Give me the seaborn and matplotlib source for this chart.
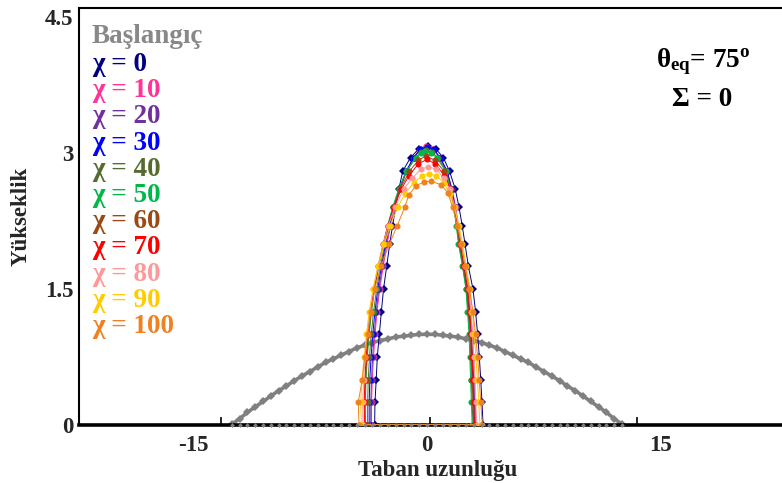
import matplotlib
matplotlib.use("Agg")
import matplotlib.pyplot as plt
import seaborn as sns

# Initial cap profile (Başlangıç)
init_x = [-12.5, -12.0, -11.5, -11.0, -10.5, -10.0, -9.5, -9.0, -8.5, -8.0, -7.5, -7.0, -6.5,
          -6.0, -5.5, -5.0, -4.5, -4.0, -3.5, -3.0, -2.5, -2.0, -1.5, -1.0, -0.5, 0.0,
          0.5, 1.0, 1.5, 2.0, 2.5, 3.0, 3.5, 4.0, 4.5, 5.0, 5.5, 6.0, 6.5, 7.0, 7.5,
          8.0, 8.5, 9.0, 9.5, 10.0, 10.5, 11.0, 11.5, 12.0, 12.5]
init_y = [0.01, 0.07, 0.14, 0.20, 0.26, 0.32, 0.38, 0.43, 0.49, 0.54, 0.59, 0.64, 0.69,
          0.73, 0.77, 0.81, 0.85, 0.88, 0.91, 0.93, 0.95, 0.97, 0.98, 0.99, 1.00, 1.00,
          1.00, 0.99, 0.98, 0.97, 0.95, 0.93, 0.91, 0.88, 0.85, 0.81, 0.77, 0.73, 0.69,
          0.64, 0.59, 0.54, 0.49, 0.43, 0.38, 0.32, 0.26, 0.20, 0.14, 0.07, 0.01]
init_base_y = [0.0] * len(init_x)

# Drop contours: left contact -> apex -> right contact, closed along the base
chi0_x = [-3.35, -3.33, -3.25, -3.18, -3.05, -2.92, -2.78, -2.58, -2.38, -2.2, -2.0, -1.8, -1.55,
          -1.05, -0.5, 0.05, 0.6, 1.05, 1.45, 1.82, 2.06, 2.26, 2.44, 2.66, 2.95, 3.12, 3.25,
          3.36, 3.45, 3.53, 3.6, -3.35]
chi0_y = [0, 0.25, 0.5, 0.75, 1.0, 1.25, 1.5, 1.75, 2.0, 2.2, 2.4, 2.6, 2.8, 2.95, 3.05, 3.08,
          3.04, 2.95, 2.8, 2.6, 2.4, 2.2, 2.0, 1.75, 1.5, 1.25, 1.0, 0.75, 0.5, 0.25, 0, 0]

chi10_x = [-3.55, -3.55, -3.5, -3.42, -3.32, -3.2, -3.02, -2.8, -2.55, -2.32, -2.05, -1.72, -1.3,
           -0.85, -0.45, -0.05, 0.4, 0.8, 1.3, 1.62, 1.85, 2.02, 2.18, 2.42, 2.68, 2.8, 2.92,
           3.0, 3.05, 3.1, 3.15, -3.55]
chi10_y = [0, 0.25, 0.5, 0.75, 1.0, 1.25, 1.5, 1.75, 2.0, 2.2, 2.4, 2.6, 2.8, 2.95, 3.05, 3.08,
           3.05, 2.95, 2.8, 2.6, 2.4, 2.2, 2.0, 1.75, 1.5, 1.25, 1.0, 0.75, 0.5, 0.25, 0, 0]

chi20_x = [-3.6, -3.6, -3.55, -3.48, -3.38, -3.25, -3.08, -2.85, -2.6, -2.38, -2.1, -1.75, -1.32,
           -0.85, -0.42, 0.0, 0.42, 0.82, 1.28, 1.6, 1.82, 1.98, 2.14, 2.38, 2.62, 2.75, 2.86,
           2.94, 3.0, 3.05, 3.1, -3.6]
chi20_y = [0, 0.25, 0.5, 0.75, 1.0, 1.25, 1.5, 1.75, 2.0, 2.2, 2.4, 2.6, 2.8, 2.95, 3.04, 3.07,
           3.04, 2.95, 2.8, 2.6, 2.4, 2.2, 2.0, 1.75, 1.5, 1.25, 1.0, 0.75, 0.5, 0.25, 0, 0]

chi30_x = [-3.7, -3.7, -3.66, -3.58, -3.47, -3.33, -3.15, -2.92, -2.65, -2.42, -2.13, -1.78, -1.33,
           -0.85, -0.42, 0.0, 0.45, 0.85, 1.3, 1.58, 1.78, 1.94, 2.1, 2.34, 2.58, 2.7, 2.8,
           2.88, 2.94, 2.99, 3.04, -3.7]
chi30_y = [0, 0.25, 0.5, 0.75, 1.0, 1.25, 1.5, 1.75, 2.0, 2.2, 2.4, 2.6, 2.8, 2.95, 3.04, 3.07,
           3.04, 2.95, 2.8, 2.6, 2.4, 2.2, 2.0, 1.75, 1.5, 1.25, 1.0, 0.75, 0.5, 0.25, 0, 0]

chi40_x = [-3.8, -3.8, -3.76, -3.68, -3.57, -3.42, -3.22, -2.98, -2.7, -2.45, -2.15, -1.78, -1.3,
           -0.72, -0.38, -0.05, 0.32, 0.7, 1.25, 1.55, 1.75, 1.9, 2.05, 2.3, 2.52, 2.64, 2.74,
           2.8, 2.85, 2.9, 2.95, -3.8]
chi40_y = [0, 0.25, 0.5, 0.75, 1.0, 1.25, 1.5, 1.75, 2.0, 2.2, 2.4, 2.6, 2.8, 2.95, 3.01, 3.03,
           3.01, 2.95, 2.8, 2.6, 2.4, 2.2, 2.0, 1.75, 1.5, 1.25, 1.0, 0.75, 0.5, 0.25, 0, 0]

chi50_x = [-3.95, -3.95, -3.9, -3.82, -3.7, -3.55, -3.35, -3.08, -2.78, -2.52, -2.2, -1.82, -1.32,
           -0.7, -0.4, -0.1, 0.25, 0.62, 1.2, 1.5, 1.72, 1.88, 2.02, 2.28, 2.5, 2.6, 2.7,
           2.75, 2.8, 2.85, 2.9, -3.95]
chi50_y = [0, 0.25, 0.5, 0.75, 1.0, 1.25, 1.5, 1.75, 2.0, 2.2, 2.4, 2.6, 2.8, 2.95, 3.0, 3.02,
           3.0, 2.95, 2.8, 2.6, 2.4, 2.2, 2.0, 1.75, 1.5, 1.25, 1.0, 0.75, 0.5, 0.25, 0, 0]

chi60_x = [-3.95, -3.98, -3.93, -3.85, -3.74, -3.58, -3.37, -3.1, -2.78, -2.5, -2.15, -1.72, -1.12,
           -0.55, -0.05, 0.5, 1.1, 1.5, 1.76, 1.94, 2.1, 2.34, 2.56, 2.68, 2.78, 2.84, 2.9,
           2.95, 3.0, -3.95]
chi60_y = [0, 0.25, 0.5, 0.75, 1.0, 1.25, 1.5, 1.75, 2.0, 2.2, 2.4, 2.6, 2.8, 2.92, 2.97,
           2.92, 2.8, 2.6, 2.4, 2.2, 2.0, 1.75, 1.5, 1.25, 1.0, 0.75, 0.5, 0.25, 0, 0]

chi70_x = [-4.0, -4.02, -3.97, -3.9, -3.78, -3.62, -3.4, -3.12, -2.8, -2.5, -2.12, -1.65, -1.15,
           -0.55, 0.0, 0.55, 1.12, 1.52, 1.8, 1.98, 2.15, 2.4, 2.62, 2.75, 2.84, 2.9, 2.96,
           3.0, 3.05, -4.0]
chi70_y = [0, 0.25, 0.5, 0.75, 1.0, 1.25, 1.5, 1.75, 2.0, 2.2, 2.4, 2.6, 2.75, 2.88, 2.93,
           2.88, 2.75, 2.6, 2.4, 2.2, 2.0, 1.75, 1.5, 1.25, 1.0, 0.75, 0.5, 0.25, 0, 0]

chi80_x = [-4.1, -4.12, -4.05, -3.96, -3.84, -3.67, -3.45, -3.15, -2.8, -2.48, -2.05, -1.5, -0.95,
           -0.4, 0.1, 0.6, 1.1, 1.45, 1.82, 2.02, 2.2, 2.45, 2.68, 2.82, 2.92, 3.0, 3.08,
           3.14, 3.2, -4.1]
chi80_y = [0, 0.25, 0.5, 0.75, 1.0, 1.25, 1.5, 1.75, 2.0, 2.2, 2.4, 2.6, 2.72, 2.82, 2.85,
           2.82, 2.72, 2.6, 2.4, 2.2, 2.0, 1.75, 1.5, 1.25, 1.0, 0.75, 0.5, 0.25, 0, 0]

chi90_x = [-4.2, -4.25, -4.15, -4.02, -3.88, -3.7, -3.45, -3.12, -2.72, -2.35, -1.88, -1.4, -0.85,
           -0.3, 0.15, 0.6, 1.1, 1.45, 1.75, 2.05, 2.28, 2.52, 2.76, 2.92, 3.04, 3.14, 3.24,
           3.32, 3.4, -4.2]
chi90_y = [0, 0.25, 0.5, 0.75, 1.0, 1.25, 1.5, 1.75, 2.0, 2.2, 2.4, 2.55, 2.67, 2.75, 2.77,
           2.75, 2.67, 2.55, 2.4, 2.2, 2.0, 1.75, 1.5, 1.25, 1.0, 0.75, 0.5, 0.25, 0, 0]

chi100_x = [-4.35, -4.4, -4.15, -3.98, -3.8, -3.6, -3.35, -2.95, -2.4, -1.9, -1.43, -1.15, -0.7,
            -0.2, 0.25, 0.9, 1.35, 1.65, 1.95, 2.2, 2.45, 2.72, 2.95, 3.12, 3.25, 3.35, 3.45,
            3.55, -4.35]
chi100_y = [0, 0.25, 0.5, 0.75, 1.0, 1.25, 1.5, 1.75, 2.0, 2.2, 2.4, 2.54, 2.64, 2.68, 2.69,
            2.65, 2.56, 2.4, 2.2, 2.0, 1.75, 1.5, 1.25, 1.0, 0.75, 0.5, 0.25, 0, 0]

chi_labels = ["χ = 0", "χ = 10", "χ = 20", "χ = 30", "χ = 40", "χ = 50",
              "χ = 60", "χ = 70", "χ = 80", "χ = 90", "χ = 100"]
chi_colors = ["#000080", "#FF3399", "#7030A0", "#0000FF", "#556B2F", "#00B84A",
              "#9A4A14", "#FF0000", "#FF9999", "#FFCC00", "#F08020"]
chi_markers = ["D", "o", "o", "o", "o", "o", "o", "o", "o", "o", "o"]
chi_xs = [chi0_x, chi10_x, chi20_x, chi30_x, chi40_x, chi50_x,
          chi60_x, chi70_x, chi80_x, chi90_x, chi100_x]
chi_ys = [chi0_y, chi10_y, chi20_y, chi30_y, chi40_y, chi50_y,
          chi60_y, chi70_y, chi80_y, chi90_y, chi100_y]

init_label = "Başlangıç"
init_color = "#808080"
x_ticks = [-15, 0, 15]
y_ticks = [0, 1.5, 3, 4.5]
y_tick_labels = ["0", "1.5", "3", "4.5"]

sns.set_style("white")
plt.rcParams["font.family"] = ["Liberation Serif", "DejaVu Serif"]
plt.rcParams["font.weight"] = "bold"
plt.rcParams["mathtext.fontset"] = "custom"
plt.rcParams["mathtext.rm"] = "Liberation Serif:bold"
plt.rcParams["mathtext.it"] = "Liberation Serif:bold"
plt.rcParams["mathtext.bf"] = "Liberation Serif:bold"

W, H = 782, 483
fig = plt.figure(figsize=(W / 100, H / 100), dpi=100)
ax = fig.add_axes([79 / W, 58 / H, 703 / W, 417 / H])

# initial profile
sns.lineplot(x=init_x, y=init_y, ax=ax, sort=False, estimator=None, color=init_color,
             marker="D", markersize=4.2, markeredgewidth=0, linewidth=2.6, zorder=2)
sns.lineplot(x=init_x, y=init_base_y, ax=ax, sort=False, estimator=None, color=init_color,
             marker="D", markersize=2.4, markeredgewidth=0, linewidth=0, zorder=6,
             clip_on=False)

# drop profiles
for xs, ys, col, mk in zip(chi_xs, chi_ys, chi_colors, chi_markers):
    sns.lineplot(x=xs, y=ys, ax=ax, sort=False, estimator=None, color=col,
                 marker=mk, markersize=4.4, markeredgewidth=0, linewidth=0.7, zorder=3)

ax.set_xlim(-22.3, 22.76)
ax.set_ylim(0, 4.6)
ax.set_xticks(x_ticks)
ax.set_xticklabels([str(t) for t in x_ticks])
ax.set_xticks([-13.2, 0.2, 13.45], minor=True)
ax.set_yticks(y_ticks)
ax.set_yticklabels(y_tick_labels)
ax.tick_params(axis="x", which="major", length=0, pad=7, labelsize=16.5)
ax.xaxis.set_tick_params(which="minor", bottom=True, direction="in", length=6,
                         width=1.2, color="black")
ax.tick_params(axis="y", length=0, pad=4, labelsize=16.5)
for lab in ax.get_xticklabels() + ax.get_yticklabels():
    lab.set_fontweight("bold")

for side in ["left", "top"]:
    ax.spines[side].set_color("black")
    ax.spines[side].set_linewidth(1.5)
ax.spines["bottom"].set_color("black")
ax.spines["bottom"].set_linewidth(2.6)
ax.spines["right"].set_visible(False)
ax.grid(False)

ax.set_xlabel("Taban uzunluğu", fontsize=16.5, fontweight="bold")
ax.set_ylabel("Yükseklik", fontsize=16.5, fontweight="bold")
ax.xaxis.set_label_coords((438 - 79) / 703, -0.083)
ax.yaxis.set_label_coords(-0.067, 0.5)


def fig_xy(xp, yp):
    return xp / W, 1 - yp / H


# legend as coloured text lines
fig.text(*fig_xy(92, 43), init_label, color="#888888", fontsize=19.5,
         fontweight="bold", va="baseline", ha="left")
for i, (lab, col) in enumerate(zip(chi_labels, chi_colors)):
    fig.text(*fig_xy(92, 71 + 26.2 * i), lab, color=col, fontsize=19.5,
             fontweight="bold", va="baseline", ha="left")

fig.text(*fig_xy(656, 67), r"$\theta_{eq}$= 75$^{o}$", color="black", fontsize=19.5,
         fontweight="bold", va="baseline", ha="left")
fig.text(*fig_xy(672, 106), "Σ = 0", color="black", fontsize=19.5,
         fontweight="bold", va="baseline", ha="left")

fig.savefig("out.png", dpi=100, facecolor="white")
